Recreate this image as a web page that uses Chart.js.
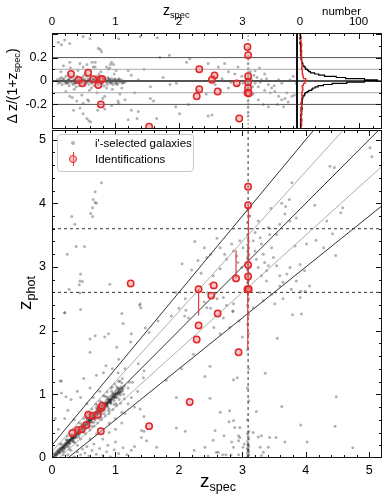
<!DOCTYPE html>
<html>
<head>
<meta charset="utf-8">
<script src="https://cdn.jsdelivr.net/npm/chart.js@4.4.1/dist/chart.umd.min.js"></script>
<style>
body{margin:0;background:#fff;}
#wrap{position:relative;width:389px;height:502px;font-family:"Liberation Sans",Arial,Helvetica,sans-serif;color:#000;overflow:hidden;}
#wrap canvas{position:absolute;left:0;top:0;}
.t{position:absolute;white-space:nowrap;line-height:1;}
.t sub{font-size:0.66em;vertical-align:baseline;position:relative;top:0.32em;}
#legend{position:absolute;left:57px;top:134px;width:135px;height:36px;border:1px solid #c8c8c8;border-radius:4px;background:rgba(255,255,255,0.88);font-size:11.5px;}
#legend .lt{position:absolute;left:37px;line-height:1;white-space:nowrap;}
.gdot{position:absolute;left:13px;top:6px;width:4px;height:4px;border-radius:50%;background:rgba(0,0,0,0.3);}
.rbar{position:absolute;left:15px;top:17px;width:1px;height:14px;background:#e8393b;}
.rring{position:absolute;left:11px;top:20px;width:6px;height:6px;border:1.5px solid #e0262a;border-radius:50%;background:rgba(240,130,130,0.45);}
</style>
</head>
<body>
<div id="wrap">
  <canvas id="mainC" width="389" height="502"></canvas>
  <canvas id="topC" width="389" height="502"></canvas>
  <canvas id="histC" width="389" height="502"></canvas>

  <div class="t" style="left:163px;top:3px;font-size:14px;">z<sub>spec</sub></div>
  <div class="t" style="left:322px;top:6px;font-size:11.5px;">number</div>
  <div class="t" style="left:200px;top:471px;font-size:19px;">z<sub>spec</sub></div>
  <div class="t" style="left:24px;top:293px;font-size:19px;transform:translate(-50%,-50%) rotate(-90deg);">z<sub>phot</sub></div>
  <div class="t" style="left:12px;top:86px;font-size:14px;transform:translate(-50%,-50%) rotate(-90deg);">Δ z/(1+z<sub>spec</sub>)</div>

  <div id="legend">
    <span class="gdot"></span><span class="lt" style="top:3px;">i'-selected galaxies</span>
    <span class="rbar"></span><span class="rring"></span><span class="lt" style="top:19px;">Identifications</span>
  </div>
</div>

<script>
// ---- data ----
// galaxies: [z_spec, z_phot]
const galaxies = [
  [0.02,0.01],[0.03,0.05],[0.04,0.08],[0.05,0.02],
  [0.06,0.04],[0.07,0.10],[0.08,0.06],[0.09,0.12],[0.10,0.07],[0.11,0.14],[0.12,0.10],[0.13,0.08],[0.14,0.16],[0.15,0.13],
  [0.16,0.11],[0.17,0.19],[0.18,0.15],[0.19,0.13],[0.20,0.22],[0.21,0.17],[0.22,0.20],[0.23,0.25],[0.24,0.19],[0.25,0.23],
  [0.26,0.28],[0.27,0.24],[0.28,0.22],[0.29,0.30],[0.30,0.27],[0.31,0.33],[0.32,0.29],[0.33,0.26],[0.34,0.35],[0.35,0.31],
  [0.36,0.38],[0.37,0.34],[0.38,0.32],[0.39,0.41],[0.40,0.36],[0.41,0.43],[0.42,0.39],[0.43,0.37],[0.44,0.46],[0.45,0.41],
  [0.46,0.49],[0.47,0.44],[0.48,0.42],[0.49,0.52],[0.50,0.47],[0.51,0.55],[0.52,0.49],[0.53,0.46],[0.54,0.57],[0.55,0.52],
  [0.56,0.60],[0.57,0.54],[0.58,0.51],[0.59,0.63],[0.60,0.57],[0.61,0.66],[0.62,0.59],[0.63,0.56],[0.64,0.68],[0.65,0.62],
  [0.66,0.71],[0.67,0.64],[0.68,0.60],[0.69,0.73],[0.70,0.67],[0.71,0.76],[0.72,0.69],[0.73,0.65],[0.74,0.78],[0.75,0.72],
  [0.76,0.81],[0.77,0.74],[0.78,0.70],[0.79,0.83],[0.80,0.77],[0.81,0.86],[0.82,0.79],[0.83,0.75],[0.84,0.88],[0.85,0.82],
  [0.86,0.91],[0.87,0.84],[0.88,0.80],[0.89,0.93],[0.90,0.87],[0.91,0.96],[0.92,0.89],[0.93,0.85],[0.94,0.98],[0.95,0.92],
  [0.96,1.01],[0.97,0.94],[0.98,0.90],[0.99,1.03],[1.00,0.97],[1.01,1.06],[1.02,0.99],[1.03,0.95],[1.04,1.08],[1.05,1.02],
  [1.06,1.10],[1.07,1.03],[1.08,0.99],[1.09,1.12],[1.10,1.05],[1.12,1.09],[1.14,1.13],
  [0.10,0.10],[0.13,0.12],[0.16,0.17],[0.19,0.18],[0.22,0.23],[0.25,0.26],[0.28,0.27],[0.31,0.30],[0.34,0.33],[0.37,0.37],
  [0.40,0.40],[0.43,0.42],[0.46,0.45],[0.49,0.48],[0.52,0.52],[0.55,0.55],[0.58,0.57],[0.61,0.60],[0.64,0.63],[0.67,0.67],
  [0.70,0.70],[0.73,0.72],[0.76,0.75],[0.79,0.78],[0.82,0.82],[0.85,0.84],[0.88,0.87],[0.91,0.90],[0.94,0.93],[0.97,0.97],
  [1.00,1.00],[1.03,1.02],[1.06,1.05],
  [0.32,0.31],[0.35,0.34],[0.38,0.38],[0.44,0.43],[0.47,0.47],[0.51,0.50],[0.54,0.53],[0.56,0.56],[0.59,0.59],[0.62,0.62],
  [0.65,0.65],[0.68,0.68],[0.71,0.71],[0.74,0.74],[0.77,0.77],[0.80,0.80],[0.83,0.83],[0.86,0.85],[0.89,0.88],[0.92,0.92],
  [0.05,0.06],[0.07,0.05],[0.09,0.09],[0.11,0.10],[0.13,0.14],[0.15,0.15],[0.17,0.16],[0.19,0.20],[0.21,0.21],[0.23,0.22],
  [0.25,0.24],[0.27,0.28],[0.29,0.28],[0.31,0.32],[0.33,0.33],[0.35,0.36],[0.37,0.35],[0.39,0.39],[0.41,0.40],[0.43,0.44],
  [0.45,0.44],[0.47,0.46],[0.49,0.50],[0.51,0.51],[0.53,0.52],[0.55,0.56],[0.57,0.56],[0.59,0.60],[0.61,0.61],[0.63,0.62],
  [0.65,0.66],[0.67,0.66],[0.69,0.70],[0.71,0.70],[0.73,0.74],[0.75,0.75],[0.77,0.76],[0.79,0.80],[0.81,0.80],[0.83,0.84],
  [0.85,0.86],[0.87,0.86],[0.89,0.90],[0.91,0.91],[0.93,0.92],[0.95,0.96],[0.97,0.96],[0.99,1.00],[1.01,1.01],[1.04,1.03],
  [1.07,1.07],[1.10,1.09],
  [0.20,0.16],[0.24,0.28],[0.28,0.24],[0.32,0.36],[0.36,0.32],[0.40,0.44],[0.44,0.40],[0.48,0.52],[0.52,0.47],[0.56,0.61],
  [0.60,0.55],[0.64,0.69],[0.68,0.63],[0.72,0.77],[0.76,0.71],[0.80,0.85],[0.84,0.79],[0.88,0.93],[0.92,0.87],[0.96,1.01],
  [1.00,0.95],[1.04,1.09],[1.08,1.03],
  [0.15,0.22],[0.18,0.10],[0.22,0.29],[0.26,0.18],[0.30,0.37],[0.34,0.26],[0.38,0.46],[0.42,0.33],[0.46,0.54],[0.50,0.41],
  [0.54,0.63],[0.58,0.48],[0.62,0.71],[0.66,0.56],[0.70,0.79],[0.74,0.62],[0.78,0.88],[0.82,0.70],[0.86,0.96],[0.90,0.77],
  [0.94,1.05],[0.98,0.84],[1.02,1.12],[1.06,0.92],[1.10,1.18],[1.13,1.00],
  [0.33,0.30],[0.41,0.38],[0.48,0.45],[0.57,0.53],[0.66,0.62],[0.74,0.70],[0.81,0.77],[0.87,0.82],[0.93,0.88],[0.99,0.95],
  [1.05,1.00],[1.11,1.06],
  [0.12,0.22],[0.18,0.05],[0.24,0.34],[0.27,0.14],[0.33,0.45],[0.36,0.24],[0.42,0.55],[0.45,0.30],[0.50,0.62],[0.53,0.38],
  [0.57,0.70],[0.60,0.44],[0.63,0.77],[0.66,0.50],[0.69,0.85],[0.72,0.55],[0.75,0.90],[0.78,0.60],[0.81,0.98],[0.84,0.66],
  [0.87,1.04],[0.90,0.70],[0.93,1.10],[0.96,0.76],[0.99,1.16],[1.02,0.82],[1.05,1.20],[1.08,0.86],[1.11,1.25],[1.14,0.93],
  [0.55,0.66],[0.62,0.50],[0.71,0.83],[0.77,0.64],[0.83,0.97],[0.89,0.74],[0.95,1.12],[1.01,0.85],
  [0.45,0.05],[0.52,0.08],[0.58,0.03],[0.63,0.12],[0.70,0.06],[0.75,0.15],[0.80,0.04],[0.86,0.10],[0.92,0.02],[0.98,0.13],
  [1.05,0.07],[1.12,0.16],[1.18,0.05],[1.25,0.12],[0.40,0.10],[0.55,0.18],[0.66,0.22],[0.35,0.02],[0.48,0.14],[0.88,0.20],
  [1.00,0.25],[1.30,0.18],
  [0.10,0.45],[0.20,0.62],[0.25,0.75],[0.30,0.92],[0.15,1.02],[0.13,1.21],[0.40,1.05],[0.50,1.25],[0.45,0.95],[0.60,1.10],
  [0.70,1.30],[0.85,1.45],[0.95,1.40],[1.05,1.55],[1.15,1.40],[1.20,1.10],[1.25,0.95],[1.30,0.80],[1.15,0.70],[1.10,0.55],
  [1.00,0.45],[0.90,0.40],[0.80,0.30],[1.35,1.05],[1.45,0.65],[0.35,0.60],[0.55,0.85],[0.65,0.95],[0.75,1.05],[0.40,0.20],
  [0.25,0.05],[0.30,0.12],[0.60,0.30],[0.70,0.38],[0.90,0.55],[1.00,0.62],[1.10,0.72],[1.20,0.85],
  [0.78,4.32],[0.68,4.18],[0.65,4.06],[0.68,4.01],[0.70,4.00],[0.64,3.93],[0.61,3.84],[0.64,3.79],[0.31,3.79],[0.36,3.67],
  [0.38,3.32],[0.51,3.32],[0.24,3.20],[0.45,2.89],[0.44,2.78],[0.43,2.72],[0.48,2.77],[0.27,2.65],[0.91,2.73],[0.44,2.59],
  [0.20,2.28],[0.45,2.33],[1.39,2.42],[1.40,2.36],[1.10,2.27],[1.12,2.11],
  [0.68,1.92],[0.60,1.87],[0.83,1.90],[0.89,1.95],[1.02,1.74],[1.24,1.82],[1.25,1.95],[1.47,2.04],[1.53,1.97],[1.67,2.15],
  [1.36,1.48],[1.45,1.37],[1.44,1.26],[1.27,1.19],[1.22,1.19],[1.39,0.77],[1.41,0.43],[1.45,0.42],[1.41,0.32],[1.49,0.27],
  [1.65,0.17],[1.96,0.47],[2.10,0.42],[2.24,0.12],[2.41,0.17],[2.46,0.03],[2.59,0.09],[2.82,0.05],[2.88,0.48],[2.96,0.32],
  [3.03,0.22],[2.80,0.74],[2.65,0.72],[1.88,2.23],[2.09,2.23],[2.11,2.32],[2.85,2.31],[1.38,2.40],[0.20,2.28],[0.15,1.21],
  [0.22,0.96],[0.05,0.62],[1.80,1.22],[2.04,1.40],[2.23,1.63],[1.96,0.95],[1.04,1.34],[1.07,1.21],[0.81,1.34],[0.60,1.66],
  [3.79,2.25],[3.55,1.88],[2.49,1.44],[2.41,1.28],[2.86,1.23],[2.92,1.26],[3.36,1.33],[2.49,0.94],[4.48,0.96],[3.62,0.81],
  [3.22,0.73],[3.92,0.52],[4.46,0.50],[4.02,0.25],[4.74,0.16],[3.67,0.25],[3.53,0.32],[3.43,0.32],[2.86,0.59],[2.79,0.57],
  [2.57,0.43],[2.54,0.28],[2.71,0.35],
  [2.62,0.09],[2.69,0.05],[2.74,0.05],[2.94,0.05],[2.94,0.35],[2.96,0.48],[2.94,0.27],[3.01,0.17],[3.17,0.40],[3.25,0.33],
  [3.30,0.35],[3.28,0.17],[3.33,0.09],[3.30,0.04],[2.86,0.17],[2.83,0.25],[3.41,0.17],
  [3.08,0.02],[3.10,0.05],[3.08,0.08],[3.10,0.10],[3.09,0.12],[3.08,0.15],[3.10,0.18],[3.09,0.22],[3.08,0.26],[3.10,0.30],
  [3.09,0.34],[3.08,0.38],[3.10,0.42],[3.09,0.04],[3.09,0.14],[3.09,0.20],
  [3.08,0.60],[3.10,0.90],[3.08,1.10],[3.10,1.40],[3.08,1.70],[3.10,1.95],[3.08,2.10],[3.10,2.25],[3.08,2.40],[3.10,2.50],
  [3.08,2.60],[3.10,2.70],[3.08,2.75],[3.10,2.80],[3.08,2.85],[3.10,2.90],[3.08,2.95],[3.10,3.00],[3.08,3.05],[3.10,3.10],
  [3.08,3.15],[3.10,3.20],[3.08,3.25],[3.10,3.30],[3.08,3.35],[3.10,3.40],[3.08,3.50],[3.10,3.60],[3.08,3.70],[3.10,3.80],
  [3.09,3.90],[3.09,2.97],[3.09,3.12],[3.09,3.28],[3.09,2.68],[3.09,2.78],[3.09,2.88],[3.09,3.02],[3.09,3.18],[3.09,3.45],
  [2.65,3.30],[2.72,3.20],[2.75,3.12],[2.83,3.36],[2.86,3.25],[2.91,3.17],[2.93,3.07],[2.96,3.41],[2.99,2.99],[3.01,3.30],
  [3.17,3.41],[3.20,3.25],[3.22,3.12],[3.25,2.99],[3.28,3.46],[3.30,3.36],[3.33,3.20],[3.35,3.07],[3.38,2.94],[3.41,3.62],
  [3.43,3.51],[3.46,3.30],[3.49,3.15],[3.54,3.02],[3.59,2.86],[3.64,2.76],[3.70,2.89],[3.75,2.99],[3.77,2.65],[3.85,2.78],
  [3.91,3.04],[3.98,2.94],[4.01,3.36],[3.85,3.77],[3.75,3.72],[3.67,3.83],[3.59,3.67],[3.54,3.51],[3.25,3.72],[3.12,3.80],
  [3.20,3.54],[3.28,2.60],[3.33,2.47],[2.65,2.97],[2.54,2.86],[2.44,3.15],[2.49,2.73],[2.70,2.52],[2.86,2.42],[2.44,2.36],
  [3.17,2.36],[3.64,2.50],[3.91,2.52],[4.06,2.70],[3.46,2.57],[3.51,2.42],[3.38,2.78],[3.30,2.86],[3.41,3.02],
  [4.38,4.58],[4.45,4.56],[5.01,4.87],[5.04,4.73],[3.78,4.32],[3.74,4.06],[4.14,3.97],[4.58,3.93],[4.55,3.85],[3.83,3.33],
  [4.16,3.42],[3.93,2.26],[3.59,2.70],[3.99,2.62],[3.92,2.62],[3.62,4.00],[3.68,3.95],[3.45,3.92],[4.33,3.72],[4.42,3.52],
  [4.28,3.30],[4.47,3.18],
  [2.40,2.45],[2.50,2.35],[2.60,2.50],[2.70,2.20],[2.75,2.40],[2.85,2.30],[2.95,2.15],[2.55,2.05],[2.65,1.95],[2.80,2.05],
  [3.00,1.90],[2.35,2.90],[2.45,2.60],[2.20,2.95],[2.30,3.10],[2.50,3.20],[2.10,2.50],[2.00,2.35],[2.15,2.20],[1.95,2.60],
  [2.05,3.05],[2.25,3.40],[2.60,3.45],[2.40,3.30]
];

// galaxyOffsets: [z_spec, dz/(1+z_spec)] for the upper panel
const galaxyOffsets = [
  [0.08,0.01],[0.10,-0.02],[0.12,0.02],[0.13,-0.01],[0.15,0.03],[0.16,-0.03],[0.18,0.00],[0.19,0.02],[0.21,-0.02],[0.22,0.04],
  [0.24,-0.01],[0.25,0.01],[0.27,-0.04],[0.28,0.02],[0.30,-0.01],[0.31,0.03],[0.33,-0.03],[0.34,0.00],[0.36,0.02],[0.37,-0.02],
  [0.39,0.04],[0.40,-0.01],[0.42,0.01],[0.43,-0.04],[0.45,0.02],[0.46,-0.02],[0.48,0.03],[0.49,0.00],[0.51,-0.03],[0.52,0.01],
  [0.54,0.04],[0.55,-0.01],[0.57,0.02],[0.58,-0.03],[0.60,0.00],[0.61,0.03],[0.63,-0.02],[0.64,0.01],[0.66,-0.04],[0.67,0.02],
  [0.69,-0.01],[0.70,0.04],[0.72,0.00],[0.73,-0.03],[0.75,0.02],[0.76,-0.01],[0.78,0.03],[0.79,-0.02],[0.81,0.01],[0.82,-0.04],
  [0.84,0.02],[0.85,0.00],[0.87,-0.03],[0.88,0.03],[0.90,-0.01],[0.91,0.01],[0.93,-0.02],[0.94,0.02],[0.96,-0.03],[0.97,0.00],
  [0.99,0.02],[1.00,-0.02],[1.02,0.01],[1.03,-0.03],[1.05,0.02],[1.07,-0.01],[1.09,0.01],[1.11,-0.02],[1.13,0.00],[1.15,-0.01],
  [0.20,0.00],[0.26,0.01],[0.32,0.00],[0.38,-0.01],[0.44,0.00],[0.50,0.01],[0.56,0.00],[0.62,-0.01],[0.68,0.00],[0.74,0.01],
  [0.80,0.00],[0.86,-0.01],[0.92,0.00],[0.98,0.01],[1.04,0.00],[0.35,-0.02],[0.47,-0.01],[0.59,0.01],[0.71,-0.02],[0.83,0.01],
  [0.95,0.00],
  [0.12,0.00],[0.17,0.01],[0.23,-0.01],[0.29,0.00],[0.35,0.01],[0.41,-0.01],[0.46,0.00],[0.53,-0.01],[0.58,0.00],[0.65,0.01],
  [0.70,0.00],[0.77,-0.01],[0.82,0.00],[0.88,0.01],[0.93,-0.01],[0.99,0.00],[1.06,0.01],[1.12,-0.01],[0.25,-0.02],[0.40,0.02],
  [0.52,-0.02],[0.66,0.02],[0.78,-0.02],[0.90,0.02],[1.02,-0.02],
  [0.14,0.08],[0.22,-0.09],[0.29,0.11],[0.35,-0.07],[0.41,0.09],[0.47,-0.12],[0.53,0.07],[0.59,-0.08],[0.65,0.12],[0.71,-0.10],
  [0.77,0.08],[0.83,-0.13],[0.89,0.10],[0.95,-0.07],[1.01,0.09],[1.07,-0.11],[0.26,0.06],[0.38,-0.05],[0.50,0.05],[0.62,-0.06],
  [0.74,0.06],[0.86,-0.06],[0.98,0.06],[1.10,-0.06],[0.44,0.15],[0.56,-0.16],[0.68,0.16],[0.80,-0.15],[0.92,0.14],[1.04,-0.17],
  [0.18,0.13],[0.32,-0.14],
  [0.10,0.33],[0.20,0.35],[0.15,0.31],[0.28,0.32],[0.49,0.38],[0.60,0.36],[0.73,0.28],[0.76,0.27],[0.78,0.25],[0.94,0.16],
  [0.97,0.14],[0.86,0.12],[0.91,0.11],[0.28,0.16],[0.49,0.12],[0.55,0.14],[0.63,0.16],[0.68,0.12],[0.28,-0.13],[0.39,-0.17],
  [0.49,-0.19],[0.58,-0.17],[0.44,-0.23],[0.34,-0.25],[0.49,-0.28],[0.55,-0.32],[0.58,-0.34],[0.61,-0.35],[0.72,-0.25],[0.83,-0.24],
  [0.94,-0.21],[1.05,-0.19],[1.15,-0.16],[1.25,-0.25],[1.36,-0.26],[1.34,-0.32],[1.65,-0.32],[1.60,-0.17],[1.55,-0.15],[1.20,-0.33],
  [1.39,0.38],[1.66,0.37],[1.05,0.36],[1.96,-0.02],[1.86,-0.03],[1.75,0.03],[1.55,-0.05],[1.36,0.01],[1.25,0.05],[1.45,0.10],
  [1.20,0.09],[1.30,-0.10],[1.70,0.20],[1.85,0.22],[1.95,-0.22],
  [2.17,0.19],[2.46,0.15],[2.62,0.12],[2.72,0.15],[2.78,0.08],[2.88,0.06],[2.93,0.12],[2.99,0.04],[3.01,-0.02],[3.14,0.02],
  [3.20,-0.02],[3.25,-0.05],[3.30,0.01],[3.35,-0.08],[3.41,-0.03],[3.46,-0.06],[3.51,-0.09],[3.57,-0.13],[3.62,-0.16],[3.67,-0.15],
  [3.72,-0.18],[3.78,-0.13],[3.75,0.01],[3.80,0.04],[3.85,-0.02],[3.57,0.01],[3.62,-0.02],[3.35,0.06],[3.27,0.11],[3.20,0.09],
  [3.17,-0.11],[3.25,-0.16],[3.33,-0.20],[3.41,-0.22],[2.30,-0.08],[2.43,-0.11],[2.57,-0.03],[2.65,-0.08],[2.78,-0.06],[2.52,-0.29],
  [2.15,-0.20],[2.12,0.16],[2.01,-0.28],[2.46,-0.30],[2.55,0.04],[2.68,0.02],[2.82,-0.01],[2.92,-0.04],[3.18,0.05],[3.23,0.03],
  [3.28,-0.01],[3.38,0.02],[3.44,-0.10],[3.50,-0.04],[3.70,-0.10],[3.82,-0.12],[3.55,-0.20],[3.65,-0.22],[3.16,-0.05],[3.13,0.08],
  [3.09,0.20],[3.09,0.15],[3.09,0.10],[3.09,0.06],[3.09,0.03],[3.09,0.00],[3.09,-0.03],[3.09,-0.06],[3.09,-0.09],[3.09,-0.13],
  [3.09,-0.17],[3.09,-0.22],[3.09,-0.27],[3.09,-0.30],[3.09,0.01],[3.09,-0.01],[3.09,-0.04]
];

// identifications: [z_spec, z_phot]
const idMain = [
  [0.32,0.39],[0.41,0.44],[0.47,0.45],[0.54,0.52],[0.57,0.68],[0.64,0.66],[0.72,0.68],[0.77,0.78],[0.79,0.82],[0.77,0.42],
  [1.24,2.74],[1.53,0.50],[2.17,0.88],[2.28,1.86],[2.31,2.08],[2.31,2.65],[2.51,2.55],[2.55,2.71],[2.61,2.27],[2.90,2.82],
  [2.94,1.66],[3.08,2.65],[3.10,2.65],[3.09,2.85],[3.09,3.03],[3.09,3.97],[3.09,4.26]
];
// error bars: [z_spec, z_phot low, z_phot high]
const idErr = [[2.31,2.24,2.65],[2.90,2.82,3.26],[3.085,1.72,2.65],[3.095,2.65,3.97]];
// identifications in the upper panel: [z_spec, dz/(1+z_spec)]
const idOffsets = [
  [0.30,0.06],[0.42,0.01],[0.48,-0.02],[0.57,0.07],[0.65,0.015],[0.73,-0.035],[0.76,0.015],[0.79,0.017],[0.77,-0.20],
  [2.32,0.10],[2.56,0.048],[2.52,0.011],[2.32,-0.07],[2.61,-0.09],[2.28,-0.13],[2.91,-0.02],[3.08,0.29],[3.09,0.22],
  [3.09,0.04],[3.09,-0.01],[3.09,-0.06],[3.08,-0.10],[3.10,-0.105],[2.95,-0.32],[1.53,-0.39]
];

// histogram of dz/(1+z): bins of 0.01 from -0.40 to 0.40
const histCounts = [
  1,2,1,1,2,1,3,1,2,2,1,3,2,2,3,2,4,2,3,3,2,4,3,
  4,4,5,5,7,8,9,12,15,20,22,26,31,40,55,80,110,
  132,110,78,62,42,32,25,18,15,13,10,9,7,5,5,4,
  3,3,2,3,2,2,1,2,2,1,2,1,1,2,1,1,0,1,1,1,0,1,1,0
];
// identifications histogram: bins of 0.02 from -0.40 to 0.40
const idHistCounts = [2,3,2,3,2,2,3,2,3,3,2,3,3,4,3,4,5,4,6,9,10,6,5,4,4,3,4,3,3,2,3,2,3,2,2,3,2,1,2,1];

// reference lines
const diagOffsets = [-0.2,-0.1,0,0.1,0.2];   // z_phot = z_spec + k(1+z_spec)
const dzLines = [-0.2,-0.1,0,0.1,0.2];
const zphotCuts = [2.6,3.6];
const zspecCut = 3.09;

// ---- drawing ----
const FONT = '"Liberation Sans", Arial, Helvetica, sans-serif';
const pts = arr => arr.map(([x,y]) => ({x, y}));

function tickList(min, max, step, majorEvery){
  const out = [];
  const n = Math.round((max - min) / step);
  for (let i = 0; i <= n; i++){
    const v = +(min + i*step).toFixed(4);
    const r = v / majorEvery;
    out.push({v, major: Math.abs(r - Math.round(r)) < 1e-6});
  }
  return out;
}

function framePlugin(xt, yt, xSides, ySides){
  return {
    id: 'frame',
    afterDatasetsDraw(chart){
      const {ctx, chartArea: a, scales} = chart;
      ctx.save();
      ctx.strokeStyle = '#111';
      ctx.lineWidth = 1;
      ctx.beginPath();
      for (const t of xt){
        const px = Math.round(scales.x.getPixelForValue(t.v)) + 0.5;
        if (px < a.left || px > a.right) continue;
        const len = t.major ? 6 : 3;
        if (xSides.includes('bottom')){ ctx.moveTo(px, a.bottom); ctx.lineTo(px, a.bottom - len); }
        if (xSides.includes('top')){ ctx.moveTo(px, a.top); ctx.lineTo(px, a.top + len); }
      }
      for (const t of yt){
        const py = Math.round(scales.y.getPixelForValue(t.v)) + 0.5;
        if (py < a.top || py > a.bottom) continue;
        const len = t.major ? 6 : 3;
        if (ySides.includes('left')){ ctx.moveTo(a.left, py); ctx.lineTo(a.left + len, py); }
        if (ySides.includes('right')){ ctx.moveTo(a.right, py); ctx.lineTo(a.right - len, py); }
      }
      ctx.stroke();
      ctx.strokeRect(Math.round(a.left) + 0.5, Math.round(a.top) + 0.5, Math.round(a.width) - 1, Math.round(a.height) - 1);
      ctx.restore();
    }
  };
}

function lineSet(data, color, width, dash, order){
  return { type: 'line', data, borderColor: color, borderWidth: width, borderDash: dash || [],
           pointRadius: 0, fill: false, tension: 0, order: order };
}

const grayStyle = { pointRadius: 1.5, pointBorderWidth: 0, backgroundColor: 'rgba(0,0,0,0.3)', borderColor: 'rgba(0,0,0,0)' };
const redStyle = { pointRadius: 3.2, pointBorderWidth: 1.5, borderColor: '#e0262a', backgroundColor: 'rgba(240,130,130,0.45)' };

function scaleCommon(min, max, values, size, fit, position, fontSize, pad){
  return {
    type: 'linear', min, max, position,
    grid: { display: false, drawTicks: false },
    border: { display: false },
    afterBuildTicks: s => { s.ticks = values.map(value => ({value})); },
    afterFit: s => { if (fit === 'w') s.width = size; else s.height = size; },
    ticks: { color: '#000', font: { family: FONT, size: fontSize }, padding: pad, maxRotation: 0, autoSkip: false,
             callback: v => String(v) }
  };
}

const baseOpts = {
  responsive: false, animation: false, events: [],
  plugins: { legend: { display: false }, tooltip: { enabled: false } }
};

// main panel
const mainSets = [];
mainSets.push({ type: 'scatter', data: pts(idMain), ...redStyle, order: 0 });
idErr.forEach(([x, lo, hi]) => mainSets.push(lineSet([{x, y: lo}, {x, y: hi}], '#e8393b', 1.2, null, 1)));
diagOffsets.forEach(k => {
  const strong = Math.abs(k) !== 0.1;
  mainSets.push(lineSet([{x: 0, y: k}, {x: 5.2, y: 5.2 + k * 6.2}], strong ? '#333' : '#999', strong ? 1 : 0.8, null, 2));
});
zphotCuts.forEach(c => mainSets.push(lineSet([{x: 0, y: c}, {x: 5.2, y: c}], '#333', 1, [3, 3], 2)));
mainSets.push(lineSet([{x: zspecCut, y: 0}, {x: zspecCut, y: 5.15}], '#333', 1, [3, 3], 2));
mainSets.push({ type: 'scatter', data: pts(galaxies), ...grayStyle, order: 3 });

new Chart(document.getElementById('mainC'), {
  type: 'scatter',
  data: { datasets: mainSets },
  options: {
    ...baseOpts,
    layout: { padding: { left: 0, top: 130, right: 7, bottom: 0 } },
    scales: {
      x: scaleCommon(0, 5.2, [0,1,2,3,4,5], 44, 'h', 'bottom', 12.5, 5),
      y: scaleCommon(0, 5.15, [0,1,2,3,4,5], 52, 'w', 'left', 12.5, 6)
    }
  },
  plugins: [framePlugin(tickList(0, 5.2, 0.2, 1), tickList(0, 5.0, 0.2, 1), ['bottom','top'], ['left','right'])]
});

// upper panel: dz/(1+z) vs z_spec
const topSets = [];
topSets.push({ type: 'scatter', data: pts(idOffsets), ...redStyle, order: 0 });
dzLines.forEach(v => {
  const c = v === 0 ? '#555' : (Math.abs(v) === 0.1 ? '#aaa' : '#555');
  topSets.push(lineSet([{x: 0, y: v}, {x: 3.9, y: v}], c, v === 0 ? 2 : 1, null, 2));
});
topSets.push(lineSet([{x: zspecCut, y: -0.41}, {x: zspecCut, y: 0.41}], '#888', 1, [2, 2], 2));
topSets.push({ type: 'scatter', data: pts(galaxyOffsets), ...grayStyle, order: 3 });

new Chart(document.getElementById('topC'), {
  type: 'scatter',
  data: { datasets: topSets },
  options: {
    ...baseOpts,
    layout: { padding: { left: 0, top: 0, right: 92, bottom: 373 } },
    scales: {
      x: scaleCommon(0, 3.86, [0,1,2,3], 33, 'h', 'top', 11.5, 4),
      y: scaleCommon(-0.41, 0.41, [-0.2,0,0.2], 52, 'w', 'left', 12.5, 5)
    }
  },
  plugins: [framePlugin(tickList(0, 3.8, 0.2, 1), tickList(-0.4, 0.4, 0.1, 0.2), ['bottom','top'], ['left'])]
});

// histogram panel
const histEdges = [];
for (let i = 0; i <= histCounts.length; i++) histEdges.push(+(-0.40 + i * 0.01).toFixed(3));
const idEdges = [];
for (let i = 0; i <= idHistCounts.length; i++) idEdges.push(+(-0.40 + i * 0.02).toFixed(3));
const stepData = (edges, counts) => edges.map((e, i) => ({x: counts[Math.min(i, counts.length - 1)], y: e}));

const histSets = [];
histSets.push({ ...lineSet(stepData(idEdges, idHistCounts), '#e8262a', 1.3, null, 0), stepped: 'after' });
histSets.push({ ...lineSet(stepData(histEdges, histCounts), '#000', 1.2, null, 1), stepped: 'after' });
dzLines.forEach(v => {
  const c = v === 0 ? '#555' : (Math.abs(v) === 0.1 ? '#aaa' : '#555');
  histSets.push(lineSet([{x: -5, y: v}, {x: 140, y: v}], c, v === 0 ? 2 : 1, null, 2));
});

new Chart(document.getElementById('histC'), {
  type: 'scatter',
  data: { datasets: histSets },
  options: {
    ...baseOpts,
    layout: { padding: { left: 297, top: 0, right: 7, bottom: 373 } },
    scales: {
      x: scaleCommon(-5, 140, [0,100], 33, 'h', 'top', 11.5, 4),
      y: { type: 'linear', min: -0.41, max: 0.41, display: false }
    }
  },
  plugins: [framePlugin(tickList(0, 125, 25, 100), tickList(-0.4, 0.4, 0.1, 0.2), ['bottom','top'], ['right'])]
});
</script>
</body>
</html>
